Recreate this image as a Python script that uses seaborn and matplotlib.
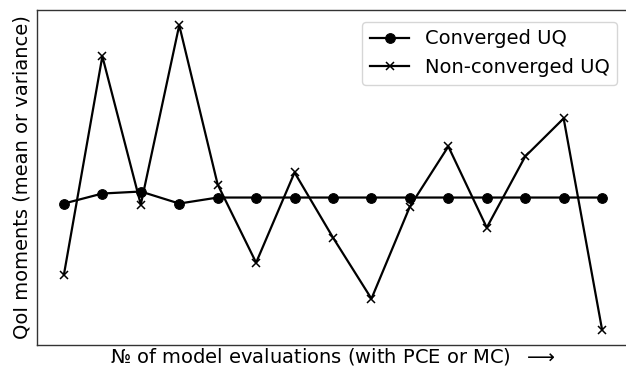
import matplotlib
matplotlib.use("Agg")
import matplotlib.pyplot as plt
import seaborn as sns
import pandas as pd

# Evaluation index (number of model evaluations, arbitrary units)
evaluations = list(range(15))
converged = [-0.06, 0.04, 0.06, -0.06, 0.0, 0.0, 0.0, 0.0, 0.0, 0.0, 0.0, 0.0, 0.0, 0.0, 0.0]
non_converged = [-0.77, 1.41, -0.07, 1.72, 0.13, -0.65, 0.25, -0.40, -1.01,
                 -0.09, 0.51, -0.30, 0.41, 0.79, -1.32]

df = pd.DataFrame({"evals": evaluations, "conv": converged, "nonconv": non_converged})

plt.rcParams["font.family"] = ["DejaVu Sans"]
fig = plt.figure(figsize=(6.26, 3.67), dpi=100)
ax = fig.add_axes([37 / 626, 22 / 367, 592 / 626, 335 / 367])

sns.lineplot(data=df, x="evals", y="conv", ax=ax, color="black", marker="o",
             markersize=7, markeredgecolor="black", linewidth=1.6, label="Converged UQ")
sns.lineplot(data=df, x="evals", y="nonconv", ax=ax, color="black", marker="x",
             markersize=6, markeredgecolor="black", markeredgewidth=1.1,
             linewidth=1.6, label="Non-converged UQ")

ax.margins(x=0.05, y=0.05)
ax.set_xticks([])
ax.set_yticks([])
ax.set_xlabel("№ of model evaluations (with PCE or MC)  $\\longrightarrow$", fontsize=14, labelpad=1)
ax.set_ylabel("QoI moments (mean or variance)", fontsize=14, labelpad=4)
for s in ax.spines.values():
    s.set_color("#333333")
    s.set_linewidth(1.0)
ax.legend(loc="upper right", fontsize=14, handlelength=2.0, borderaxespad=0.6)

fig.savefig("out.png", dpi=100)
